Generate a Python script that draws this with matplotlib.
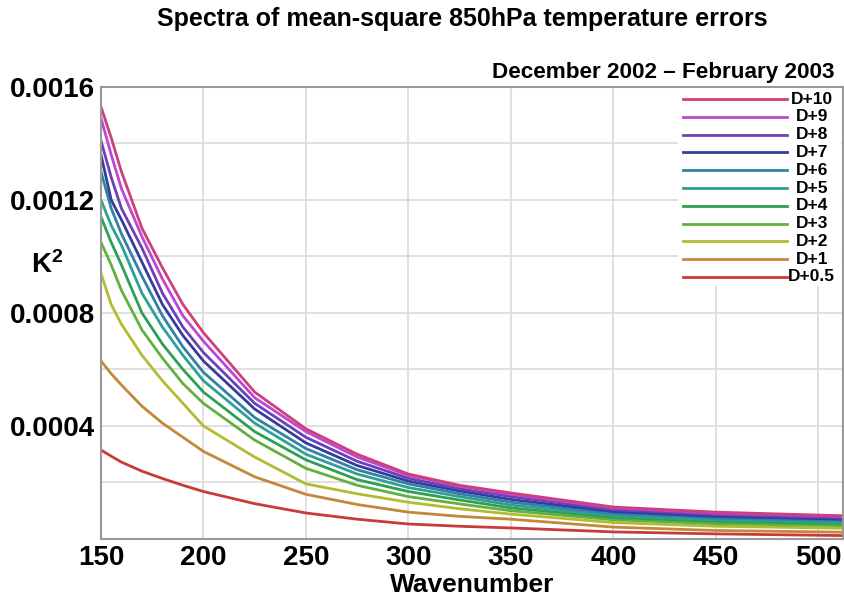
import matplotlib
matplotlib.use("Agg")
import matplotlib.pyplot as plt
import numpy as np

plt.rcParams['font.family'] = ['Liberation Sans', 'DejaVu Sans']
plt.rcParams['font.weight'] = 'bold'
plt.rcParams['mathtext.fontset'] = 'custom'
plt.rcParams['mathtext.rm'] = 'Liberation Sans:bold'
plt.rcParams['mathtext.bf'] = 'Liberation Sans:bold'

wavenumber = [150, 155, 160, 170, 180, 190, 200, 225, 250, 275, 300, 325, 350, 400, 450, 512]

# Mean-square error spectra (K^2) for each forecast range
d10 = [0.00153, 0.00142, 0.00130, 0.00110, 0.00096, 0.00083, 0.00073, 0.00052, 0.00039, 0.00030,
       0.00023, 0.00019, 0.000163, 0.000113, 0.000095, 0.000082]
d9 = [0.00149, 0.00136, 0.00124, 0.00107, 0.00092, 0.00079, 0.00070, 0.00050, 0.00038, 0.00029,
      0.000225, 0.000187, 0.000158, 0.00011, 0.000092, 0.00008]
d8 = [0.00141, 0.00128, 0.00117, 0.00103, 0.00087, 0.00075, 0.00066, 0.00048, 0.00036, 0.000275,
      0.000215, 0.000178, 0.00015, 0.000104, 0.000086, 0.000075]
d7 = [0.00136, 0.00120, 0.00113, 0.00098, 0.00083, 0.00072, 0.00063, 0.00046, 0.00034, 0.00026,
      0.000205, 0.00017, 0.00014, 0.000097, 0.00008, 0.00007]
d6 = [0.00130, 0.00117, 0.00108, 0.00093, 0.00079, 0.00068, 0.00059, 0.00043, 0.00032, 0.000245,
      0.000195, 0.00016, 0.00013, 0.00009, 0.000074, 0.000065]
d5 = [0.00120, 0.00111, 0.00104, 0.00087, 0.00075, 0.00065, 0.00056, 0.00041, 0.00030, 0.00023,
      0.000182, 0.00015, 0.00012, 0.000083, 0.000068, 0.00006]
d4 = [0.00114, 0.00105, 0.00097, 0.00080, 0.00069, 0.00060, 0.00052, 0.00038, 0.00028, 0.00021,
      0.000168, 0.000138, 0.00011, 0.000076, 0.000062, 0.000054]
d3 = [0.00105, 0.00097, 0.00088, 0.00074, 0.00064, 0.00055, 0.00048, 0.00035, 0.00025, 0.00019,
      0.00015, 0.000124, 0.0001, 0.000068, 0.000054, 0.000047]
d2 = [0.00094, 0.00083, 0.00076, 0.00065, 0.00056, 0.00048, 0.00040, 0.00029, 0.000195, 0.00016,
      0.00013, 0.000107, 0.000088, 0.000058, 0.000045, 0.000038]
d1 = [0.00063, 0.000585, 0.000545, 0.00047, 0.00041, 0.00036, 0.00031, 0.00022, 0.000158, 0.000122,
      0.000095, 0.00008, 0.00007, 0.000042, 0.00003, 0.000024]
d05 = [0.000315, 0.000293, 0.000272, 0.00024, 0.000214, 0.00019, 0.000168, 0.000125, 0.000092, 0.00007,
       0.000053, 0.000045, 0.000039, 0.000025, 0.000018, 0.000012]

labels = ["D+10", "D+9", "D+8", "D+7", "D+6", "D+5", "D+4", "D+3", "D+2", "D+1", "D+0.5"]
series = [d10, d9, d8, d7, d6, d5, d4, d3, d2, d1, d05]
colors = ["#cf3f7c", "#bf45d2", "#6a42b8", "#343c9c", "#3182a6", "#2fa093", "#2f9f52",
          "#62b03e", "#b3bb33", "#c4883a", "#c93a3a"]

xticks = [150, 200, 250, 300, 350, 400, 450, 500]
yticks = [0.0004, 0.0008, 0.0012, 0.0016]
ytick_labels = ["0.0004", "0.0008", "0.0012", "0.0016"]


def main():
    fig = plt.figure(figsize=(8.45, 6.02), dpi=100)
    ax = fig.add_axes([0.1195, 0.1047, 0.878, 0.7508])

    # draw lowest range first so the longer ranges sit on top
    for vals, col in zip(series[::-1], colors[::-1]):
        ax.plot(wavenumber, vals, color=col, lw=2.0, solid_joinstyle='round')

    ax.set_xlim(150, 512)
    ax.set_ylim(0, 0.0016)
    ax.set_xticks(xticks)
    ax.set_yticks(yticks)
    ax.set_yticklabels(ytick_labels)
    ax.set_yticks(np.arange(0.0002, 0.0016, 0.0004), minor=True)
    ax.tick_params(which='both', length=0, labelsize=20, pad=4)
    ax.grid(True, which='both', color='#dddddd', lw=1.3)
    ax.set_axisbelow(True)
    for sp in ax.spines.values():
        sp.set_color('#999999')
        sp.set_linewidth(1.5)

    ax.set_xlabel("Wavenumber", fontsize=19, fontweight='bold', labelpad=2)
    ax.set_ylabel(r"$\mathbf{K^2}$", fontsize=20, rotation=0)
    ax.yaxis.set_label_coords(-0.072, 0.575)

    fig.text(0.547, 0.968, "Spectra of mean-square 850hPa temperature errors",
             ha='center', va='center', fontsize=18, fontweight='bold')
    fig.text(0.988, 0.879, "December 2002 \u2013 February 2003",
             ha='right', va='center', fontsize=16.2, fontweight='bold')

    # legend: white box, line samples with centred labels to their right
    ax.add_patch(plt.Rectangle((0.778, 0.56), 0.22, 0.438, transform=ax.transAxes,
                               facecolor='white', edgecolor='none', zorder=3))
    y0, dy = 0.973, 0.0393
    for i, (lab, col) in enumerate(zip(labels, colors)):
        yy = y0 - i * dy
        ax.plot([0.784, 0.9245], [yy, yy], transform=ax.transAxes, color=col, lw=2.0,
                zorder=4, clip_on=False)
        ax.text(0.958, yy, lab, transform=ax.transAxes, ha='center', va='center',
                fontsize=12.5, fontweight='bold', zorder=4)

    fig.savefig("out.png", dpi=100)


if __name__ == "__main__":
    main()
